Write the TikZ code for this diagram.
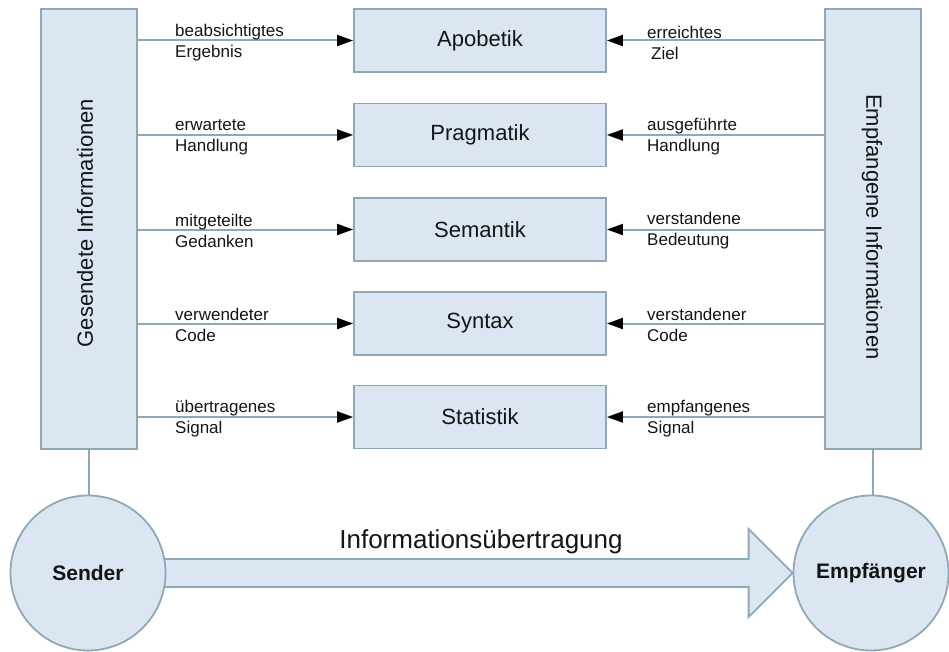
\documentclass[tikz,border=0pt]{standalone}
\usepackage{fontspec}
\setmainfont{Liberation Sans}
\usetikzlibrary{arrows.meta,calc}
\definecolor{boxfill}{HTML}{DCE6F2}
\definecolor{boxline}{HTML}{8FA8B6}
\definecolor{ink}{HTML}{141414}
\pgfdeclarelayer{bg}
\pgfsetlayers{bg,main}

\begin{document}
\begin{tikzpicture}[x=1pt,y=-1pt,
  panel/.style={draw=boxline, fill=boxfill, line width=1.8pt, inner sep=0pt},
  column/.style={panel, minimum width=96pt, minimum height=440pt},
  layer/.style={panel, minimum width=252pt, minimum height=63pt,
    font=\fontsize{22}{26}\selectfont, text=ink},
  party/.style={panel, circle, minimum size=155pt,
    font=\bfseries\fontsize{21}{25}\selectfont, text=ink},
  coltext/.style={font=\fontsize{22}{26}\selectfont, text=ink, inner sep=0pt},
  conn/.style={draw=boxline, line width=2pt,
    -{Triangle[length=16pt,width=11pt,black]}},
  link/.style={draw=boxline, line width=1.8pt},
  lbl/.style={font=\fontsize{17}{21}\selectfont, text=ink, align=left,
    anchor=west, inner sep=0pt}
]
\useasboundingbox (0,0) rectangle (949,652);

% sender and receiver side columns
\node[column] (L) at (89,229) {};
\node[column] (R) at (873,229) {};
\node[coltext, rotate=90]  (Lt) at (85,223) {Gesendete Informationen};
\node[coltext, rotate=-90] (Rt) at (872,227) {Empfangene Informationen};

% semiotic layers
\node[layer] (A)  at (480,40.5)  {Apobetik};
\node[layer] (P)  at (480,135)   {Pragmatik};
\node[layer] (Se) at (480,229.5) {Semantik};
\node[layer] (Sy) at (480,323.5) {Syntax};
\node[layer] (St) at (480,417)   {Statistik};

% connectors from both columns into each layer
\foreach \b in {A,P,Se,Sy,St}{
  \draw[conn] (L.east |- \b.west) -- (\b.west);
  \draw[conn] (R.west |- \b.east) -- (\b.east);
}

% labels on the sending side
\node[lbl] (la1) at (175,43)  {beabsichtigtes\\Ergebnis};
\node[lbl] (la2) at (175,137) {erwartete\\Handlung};
\node[lbl] (la3) at (175,231) {mitgeteilte\\Gedanken};
\node[lbl] (la4) at (175,325) {verwendeter\\Code};
\node[lbl] (la5) at (175,419) {übertragenes\\Signal};

% labels on the receiving side
\node[lbl] (lb1) at (647,43)  {erreichtes\\\hspace*{4pt}Ziel};
\node[lbl] (lb2) at (647,137) {ausgeführte\\Handlung};
\node[lbl] (lb3) at (647,231) {verstandene\\Bedeutung};
\node[lbl] (lb4) at (647,325) {verstandener\\Code};
\node[lbl] (lb5) at (647,419) {empfangenes\\Signal};

% sender and receiver
\node[party] (S) at (88,573)  {Sender};
\node[party] (E) at (871,573) {Empfänger};
\draw[link] (L.south) -- (L.south |- S.north);
\draw[link] (R.south) -- (R.south |- E.north);

% transmission arrow
\coordinate (tip) at (E.west);
\begin{pgfonlayer}{bg}
\draw[panel, line join=miter]
  ($(S.center)+(0,-14)$) -- ($(tip)+(-44,-14)$) -- ($(tip)+(-44,-44)$)
  -- (tip) -- ($(tip)+(-44,44)$) -- ($(tip)+(-44,14)$)
  -- ($(S.center)+(0,14)$) -- cycle;
\end{pgfonlayer}
\node[font=\fontsize{26}{30}\selectfont, text=ink, anchor=base] (flow)
  at (481,548) {Informationsübertragung};
\end{tikzpicture}
\end{document}
